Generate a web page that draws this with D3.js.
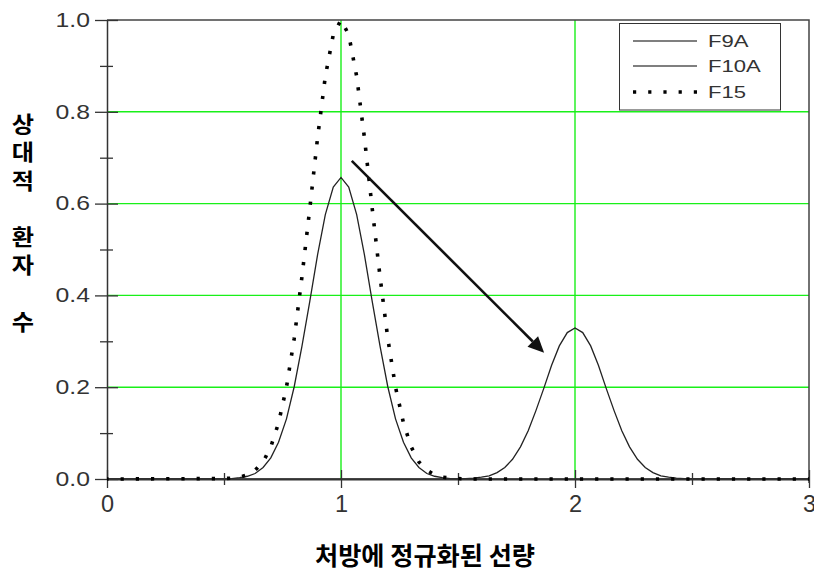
<!DOCTYPE html>
<html>
<head>
<meta charset="utf-8">
<script src="https://cdn.jsdelivr.net/npm/d3@7"></script>
<style>
  body { margin: 0; background: #fff; }
  svg { display: block; }
</style>
</head>
<body>
<svg id="chart"></svg>
<script>
// dose normalised to prescription (x) and relative patient counts (y)
const dose = [0,
  0.5, 0.533, 0.567, 0.6, 0.633, 0.667, 0.7, 0.733, 0.767, 0.8,
  0.833, 0.867, 0.9, 0.933, 0.967, 1.0, 1.033, 1.067, 1.1, 1.133,
  1.167, 1.2, 1.233, 1.267, 1.3, 1.333, 1.367, 1.4, 1.433, 1.467,
  1.5, 1.533, 1.567, 1.6, 1.633, 1.667, 1.7, 1.733, 1.767, 1.8,
  1.833, 1.867, 1.9, 1.933, 1.967, 2.0, 2.033, 2.067, 2.1, 2.133,
  2.167, 2.2, 2.233, 2.267, 2.3, 2.333, 2.367, 2.4, 2.433, 2.467,
  2.5, 3];

const f9a = [0,
  0.000, 0.001, 0.003, 0.006, 0.012, 0.025, 0.046, 0.080, 0.131, 0.201,
  0.289, 0.388, 0.489, 0.576, 0.636, 0.657, 0.636, 0.576, 0.489, 0.388,
  0.289, 0.201, 0.131, 0.080, 0.046, 0.025, 0.012, 0.006, 0.003, 0.001,
  0.000, 0, 0, 0, 0, 0, 0, 0, 0, 0,
  0, 0, 0, 0, 0, 0, 0, 0, 0, 0,
  0, 0, 0, 0, 0, 0, 0, 0, 0, 0,
  0, 0];

const f10a = [0,
  0, 0, 0, 0, 0, 0, 0, 0, 0, 0,
  0, 0, 0, 0, 0, 0, 0, 0, 0, 0,
  0, 0, 0, 0, 0, 0, 0, 0, 0, 0,
  0.000, 0.001, 0.002, 0.004, 0.007, 0.014, 0.025, 0.043, 0.070, 0.105,
  0.149, 0.198, 0.248, 0.290, 0.319, 0.329, 0.319, 0.290, 0.248, 0.198,
  0.149, 0.105, 0.070, 0.043, 0.025, 0.014, 0.007, 0.004, 0.002, 0.001,
  0.000, 0];

const f15 = [0,
  0.001, 0.002, 0.004, 0.009, 0.019, 0.037, 0.070, 0.122, 0.200, 0.306,
  0.440, 0.591, 0.744, 0.877, 0.968, 1.000, 0.968, 0.877, 0.744, 0.591,
  0.440, 0.306, 0.200, 0.122, 0.070, 0.037, 0.019, 0.009, 0.004, 0.002,
  0.001, 0, 0, 0, 0, 0, 0, 0, 0, 0,
  0, 0, 0, 0, 0, 0, 0, 0, 0, 0,
  0, 0, 0, 0, 0, 0, 0, 0, 0, 0,
  0, 0];

const seriesNames = ["F9A", "F10A", "F15"];
const xTicks = [0, 1, 2, 3];
const xMinorTicks = [0.5, 1.5, 2.5];
const yTicks = [0, 0.2, 0.4, 0.6, 0.8, 1.0];
const yMinorTicks = [0.1, 0.3, 0.5, 0.7, 0.9];
const xGrid = [1, 2];
const yGrid = [0.2, 0.4, 0.6, 0.8];
const yTitleLines = ["상", "대", "적", "", "환", "자", "", "수"];
const xTitle = "처방에 정규화된 선량";
const arrowFrom = [1.046, 0.693];
const arrowTo = [1.868, 0.275];

var width = 814, height = 574;
var plotLeft = 107, plotRight = 809, plotTop = 20, plotBottom = 479;
var green = "#19f019", ink = "#333";
var font = "'Liberation Sans', Arial, sans-serif";
var krFont = "'Noto Sans CJK KR', 'Noto Sans', sans-serif";

var svg = d3.select("#chart").attr("width", width).attr("height", height);

var x = d3.scaleLinear().domain([0, 3]).range([plotLeft, plotRight]);
var y = d3.scaleLinear().domain([0, 1]).range([plotBottom, plotTop]);

// green grid
svg.append("g").selectAll("line").data(yGrid).enter().append("line")
  .attr("x1", plotLeft).attr("x2", plotRight)
  .attr("y1", d => y(d)).attr("y2", d => y(d))
  .attr("stroke", green).attr("stroke-width", 1.4);
svg.append("g").selectAll("line").data(xGrid).enter().append("line")
  .attr("x1", d => x(d)).attr("x2", d => x(d))
  .attr("y1", plotTop).attr("y2", plotBottom)
  .attr("stroke", green).attr("stroke-width", 1.4);

// frame on top and right
svg.append("path")
  .attr("d", "M" + plotLeft + "," + plotTop + "H" + plotRight + "V" + (plotBottom + 4))
  .attr("fill", "none").attr("stroke", "#444").attr("stroke-width", 1.5);

// curves
var line = d3.line()
  .x((d, i) => x(dose[i]))
  .y(d => y(d));

svg.append("path").datum(f9a).attr("d", line)
  .attr("fill", "none").attr("stroke", "#222").attr("stroke-width", 1.3);
svg.append("path").datum(f10a).attr("d", line)
  .attr("fill", "none").attr("stroke", "#222").attr("stroke-width", 1.3);

// axes
var yAxis = svg.append("g")
  .attr("transform", "translate(" + plotLeft + ",0)")
  .call(d3.axisLeft(y).tickValues(yTicks).tickFormat(d3.format(".1f"))
    .tickSize(12).tickSizeOuter(0).tickPadding(5));
yAxis.selectAll(".tick line").attr("x1", 11).attr("stroke", ink).attr("stroke-width", 1.3);
yAxis.select(".domain").attr("stroke", ink).attr("stroke-width", 1.5);
yAxis.selectAll("text")
  .style("font-family", font).style("font-size", "19.5px").attr("fill", ink)
  .attr("x", -17 / 1.27).attr("transform", "scale(1.27,1)");

var yMinor = svg.append("g")
  .attr("transform", "translate(" + plotLeft + ",0)")
  .call(d3.axisLeft(y).tickValues(yMinorTicks).tickFormat("").tickSize(7).tickSizeOuter(0));
yMinor.selectAll(".tick line").attr("x1", 6).attr("stroke", ink).attr("stroke-width", 1.3);
yMinor.select(".domain").remove();

var xAxis = svg.append("g")
  .attr("transform", "translate(0," + plotBottom + ")")
  .call(d3.axisBottom(x).tickValues(xTicks).tickFormat(d3.format("d"))
    .tickSize(9).tickSizeOuter(0).tickPadding(7));
xAxis.selectAll(".tick line").attr("y1", -9).attr("stroke", ink).attr("stroke-width", 1.3);
xAxis.select(".domain").attr("stroke", ink).attr("stroke-width", 2);
xAxis.selectAll("text")
  .style("font-family", font).style("font-size", "23.5px").attr("fill", ink);

var xMinor = svg.append("g")
  .attr("transform", "translate(0," + plotBottom + ")")
  .call(d3.axisBottom(x).tickValues(xMinorTicks).tickFormat("").tickSize(6).tickSizeOuter(0));
xMinor.selectAll(".tick line").attr("y1", -6).attr("stroke", ink).attr("stroke-width", 1.3);
xMinor.select(".domain").remove();

// dotted F15 drawn above the axis
svg.append("path").datum(f15).attr("d", line)
  .attr("fill", "none").attr("stroke", "#000").attr("stroke-width", 3.6)
  .attr("stroke-dasharray", "3.2,12").attr("stroke-dashoffset", 1.6);

// arrow annotation
var ax1 = x(arrowFrom[0]), ay1 = y(arrowFrom[1]);
var ax2 = x(arrowTo[0]), ay2 = y(arrowTo[1]);
var ang = Math.atan2(ay2 - ay1, ax2 - ax1);
var headLen = 16, headW = 7.5;
var bx = ax2 - headLen * Math.cos(ang), by = ay2 - headLen * Math.sin(ang);
svg.append("line")
  .attr("x1", ax1).attr("y1", ay1).attr("x2", bx).attr("y2", by)
  .attr("stroke", "#111").attr("stroke-width", 2.6);
svg.append("polygon")
  .attr("points", [
    [ax2, ay2],
    [bx + headW * Math.sin(ang), by - headW * Math.cos(ang)],
    [bx - headW * Math.sin(ang), by + headW * Math.cos(ang)]
  ].map(p => p.join(",")).join(" "))
  .attr("fill", "#111");

// legend
var legend = svg.append("g");
legend.append("rect")
  .attr("x", 619.5).attr("y", 23.5).attr("width", 161).attr("height", 86.5)
  .attr("fill", "#fff").attr("stroke", "#333").attr("stroke-width", 1);
var legendY = [41, 66, 92];
seriesNames.forEach(function(name, i) {
  var item = legend.append("line")
    .attr("x1", 633).attr("x2", 697)
    .attr("y1", legendY[i]).attr("y2", legendY[i])
    .attr("stroke", "#000");
  if (name == "F15") {
    item.attr("stroke-width", 3.6).attr("stroke-dasharray", "3.2,12");
  } else {
    item.attr("stroke-width", 1.1);
  }
  legend.append("text")
    .attr("x", 708 / 1.3).attr("y", legendY[i] + 6.3)
    .attr("transform", "scale(1.3,1)")
    .style("font-family", font).style("font-size", "17px").attr("fill", ink)
    .text(name);
});

// axis titles: y title is stacked one syllable per line
var yTitle = svg.append("text")
  .attr("transform", "scale(1.1,1)")
  .attr("text-anchor", "middle")
  .style("font-family", krFont).style("font-size", "22px").style("font-weight", "bold");
yTitleLines.forEach(function(ch, i) {
  yTitle.append("tspan")
    .attr("x", 23 / 1.1)
    .attr("y", 124 + i * 28.3 + 8)
    .text(ch === "" ? "\u00a0" : ch);
});

svg.append("text")
  .attr("x", 425).attr("y", 554)
  .attr("text-anchor", "middle")
  .attr("dominant-baseline", "central")
  .attr("textLength", 220).attr("lengthAdjust", "spacingAndGlyphs")
  .style("font-family", krFont).style("font-size", "25px").style("font-weight", "bold")
  .text(xTitle);
</script>
</body>
</html>
